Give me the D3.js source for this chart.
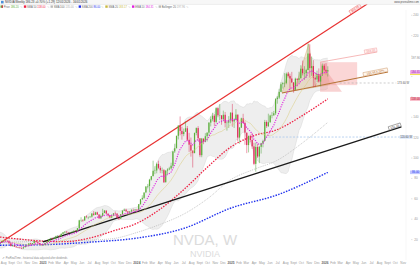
<!DOCTYPE html>
<html>
<head>
<meta charset="utf-8">
<script src="https://cdn.jsdelivr.net/npm/d3@7"></script>
<style>
  html, body { margin: 0; padding: 0; background: #fff; }
  svg { display: block; font-family: "Liberation Sans", Arial, sans-serif; }
</style>
</head>
<body>
<div id="chart"></div>
<script>
// weekly closes before the visible window (only used to seed the averages)
var priorCloses = [22.9, 26.4, 27.1, 26.7, 23.1, 21.2, 19.5, 18.5, 18.7, 17.8,
  16.7, 18.8, 18.7, 17.0, 15.9, 17.1, 14.5, 15.8, 15.9];

// weekly candles, first week starts 18 Jul 2022
var closes = [
  // 2022
  17.3, 18.2, 19.1, 19.0, 18.9, 16.3, 13.6, 14.4, 13.2, 12.5, 12.1, 12.0, 11.3, 12.5, 13.8, 14.1, 16.3, 15.4, 16.5, 18.7, 17.5, 16.6, 15.3, 14.6,
  // 2023
  14.9, 16.8, 17.8, 20.3, 21.1, 20.5, 21.4, 23.3, 23.7, 22.9, 25.7, 27.1, 27.8, 27.1, 26.7, 27.1, 27.7, 28.7, 28.3, 31.2,
  38.9, 39.3, 38.8, 42.7, 42.2, 42.3, 42.5, 45.5, 44.3, 46.7, 44.6, 40.9, 43.3, 46.0, 48.5, 45.5, 43.9, 41.6, 43.5, 45.7,
  45.4, 41.3, 40.5, 45.0, 48.3, 49.3, 47.8, 46.5, 47.6, 48.9, 48.8, 49.5,
  // 2024
  49.0, 54.7, 59.5, 61.0, 66.2, 72.1, 72.6, 78.8, 82.2, 87.5, 87.8, 94.2, 90.4, 88.0, 88.1, 76.2, 87.7, 88.8, 89.8, 92.5,
  106.5, 109.6, 121.8, 131.9, 126.6, 123.5, 125.8, 129.2, 117.9, 113.1, 107.3, 104.8, 124.6, 129.4, 119.4, 102.8, 119.1, 116.0, 121.4, 124.9,
  134.8, 138.0, 141.5, 135.4, 148.9, 141.9, 141.9, 138.3, 142.4, 134.3, 134.7, 137.0, 144.5,
  // 2025
  135.9, 137.7, 142.6, 120.1, 129.8, 138.9, 134.4, 124.9, 112.7, 121.7, 117.7, 111.4, 94.3, 110.9, 101.5, 111.0, 114.5, 116.7, 135.4, 131.3,
  135.1, 141.7, 142.0, 143.9, 157.8, 159.3, 164.9, 172.4, 173.5, 173.7, 182.7, 180.5, 178.0, 174.2, 167.0, 177.8, 176.7, 178.2, 187.6, 183.2,
  183.2, 186.3, 202.5, 188.2, 190.2, 178.9, 177.0, 182.4, 175.0, 181.0, 190.5, 186.5,
  // 2026
  184.9, 186.2
];
var highs = [
  17.8, 18.7, 19.6, 19.3, 19.2, 18.9, 16.4, 14.6, 14.5, 13.4, 12.8, 13.1, 12.0, 12.7, 14.2, 14.3, 16.6, 16.9, 16.7, 18.9, 18.1, 18.3, 16.8, 15.6,
  15.0, 16.9, 17.8, 20.3, 21.7, 22.0, 22.0, 23.8, 24.1, 24.2, 25.8, 27.3, 28.0, 28.2, 27.2, 27.4, 27.9, 28.9, 29.0, 31.4,
  39.5, 41.9, 39.9, 43.0, 43.9, 42.4, 43.0, 46.1, 48.0, 47.3, 47.4, 45.0, 44.5, 50.2, 48.9, 48.0, 45.5, 43.9, 44.9, 46.0,
  47.6, 46.1, 42.8, 45.1, 48.9, 50.5, 50.3, 47.8, 47.9, 49.9, 50.4, 49.9,
  49.6, 54.9, 59.9, 63.5, 66.3, 72.3, 74.6, 79.6, 82.3, 97.4, 92.0, 95.5, 97.4, 92.3, 90.6, 89.2, 88.0, 90.0, 91.4, 95.4,
  106.8, 114.0, 121.9, 132.0, 140.8, 130.8, 128.9, 136.1, 131.4, 124.7, 120.1, 107.0, 125.0, 130.0, 131.3, 118.8, 119.7, 119.0, 124.4, 125.2,
  135.0, 140.9, 144.4, 143.1, 149.8, 149.6, 152.9, 141.6, 146.5, 145.2, 136.2, 141.1, 144.9,
  153.1, 138.9, 148.0, 131.4, 130.4, 139.6, 143.4, 136.0, 123.7, 122.0, 122.9, 124.5, 115.0, 115.1, 114.0, 111.9, 114.9, 118.0, 137.4, 137.0,
  143.5, 142.5, 145.0, 146.2, 158.7, 160.9, 167.9, 174.3, 174.7, 183.3, 183.9, 184.5, 182.7, 184.5, 174.3, 178.8, 178.0, 184.6, 191.0, 195.6,
  190.1, 187.5, 212.2, 211.5, 199.6, 196.0, 184.0, 185.7, 187.9, 182.8, 192.7, 192.5,
  193.0, 190.0
];
var lows = [
  15.8, 17.0, 17.4, 17.9, 18.1, 16.2, 13.5, 13.3, 12.9, 12.3, 11.9, 11.6, 10.8, 11.2, 12.8, 13.1, 13.4, 15.3, 15.6, 15.8, 17.0, 16.1, 14.9, 14.1,
  14.1, 14.9, 16.6, 17.6, 19.2, 20.3, 20.5, 20.5, 22.3, 22.8, 22.6, 25.4, 26.0, 26.9, 25.8, 26.0, 26.3, 26.9, 27.6, 28.0,
  30.3, 37.3, 37.5, 38.5, 41.0, 40.0, 41.2, 41.6, 43.4, 44.5, 44.3, 40.3, 40.3, 44.0, 46.6, 45.2, 42.6, 40.9, 41.0, 43.1,
  44.0, 40.6, 39.2, 40.4, 45.3, 48.1, 46.9, 45.6, 44.0, 47.0, 47.6, 47.8,
  47.3, 49.5, 54.5, 59.0, 60.0, 67.0, 70.3, 66.3, 77.9, 85.2, 84.2, 85.0, 89.1, 85.2, 85.0, 75.6, 77.7, 84.0, 88.0, 88.9,
  91.0, 105.0, 110.5, 118.3, 122.3, 118.0, 121.4, 127.0, 116.7, 106.0, 101.4, 90.7, 106.0, 122.3, 116.7, 100.9, 100.8, 113.6, 115.4, 116.2,
  122.1, 131.0, 136.0, 131.3, 134.0, 140.0, 137.2, 132.6, 136.0, 130.0, 126.9, 129.5, 134.0,
  130.7, 129.5, 137.0, 116.3, 114.0, 129.5, 133.9, 113.0, 104.8, 105.5, 115.4, 109.0, 93.0, 86.6, 100.1, 95.0, 104.4, 110.5, 118.0, 129.5,
  130.4, 134.6, 139.0, 141.3, 142.2, 153.3, 157.9, 164.7, 168.1, 169.5, 172.4, 179.0, 167.2, 173.8, 164.1, 166.4, 170.3, 173.5, 178.4, 181.0,
  176.7, 179.0, 188.5, 178.9, 180.6, 169.5, 169.6, 174.6, 174.0, 170.3, 181.9, 185.0,
  182.0, 180.0
];

// long averages
var sma50Dates = ["2022-07-18", "2022-10-01", "2023-01-01", "2023-04-01", "2023-07-01", "2023-10-01", "2024-01-01", "2024-04-01",
  "2024-07-01", "2024-10-01", "2025-01-01", "2025-04-01", "2025-07-01", "2025-10-01", "2026-01-12"];
var sma50Values = [22.5, 20.5, 18.5, 18.0, 21.5, 28.5, 36, 50, 69, 91, 111, 122, 128, 141, 158];
var sma100Dates = ["2022-07-18", "2023-01-01", "2023-07-01", "2023-10-01", "2024-01-01", "2024-04-01", "2024-07-01",
  "2024-10-01", "2025-01-01", "2025-04-01", "2025-07-01", "2025-10-01", "2026-01-12"];
var sma100Values = [17, 18.5, 19.5, 21, 27, 35, 45, 60, 79, 89, 98, 114, 135];
var sma200Dates = ["2022-07-18", "2023-01-01", "2023-07-01", "2024-01-01", "2024-07-01", "2025-01-01", "2025-07-01", "2026-01-12"];
var sma200Values = [14.5, 15.0, 17.5, 21.5, 31, 51, 64, 86];

// drawings
var redTrendDates = ["2022-07-18", "2026-06-14"], redTrendPrices = [16.7, 251];
var blackTrendDates = ["2023-01-01", "2026-10-25"], blackTrendPrices = [17.7, 130.5];
var neckDates = ["2025-07-18", "2026-09-03"], neckPrices = [163.8, 184.4];
var pinkLineDates = ["2025-12-13", "2026-07-23"], pinkLinePrices = [194, 204];
var boxDates = ["2025-12-13", "2026-05-06"], boxPrices = [171.5, 194];
var triDates = ["2025-12-13", "2026-03-08", "2025-12-13"], triPrices = [194, 165, 165];
var patternDates = ["2025-07-18", "2025-08-12", "2025-09-05", "2025-10-30", "2025-11-24", "2025-12-29", "2026-01-20"];
var patternPrices = [164, 184, 167, 212, 170, 192, 172];
var dashLevel = 173.6, dashDates = ["2026-02-27", "2026-10-05"];
var blueLevel = 120.6, blueDates = ["2025-05-13", "2026-10-22"];

var yTicks = [20, 40, 60, 80, 100, 120, 140, 160, 180, 200, 220, 240];
var monthNames = ["", "Feb", "Mar", "Apr", "May", "Jun", "Jul", "Aug", "Sept", "Oct", "Nov", "Dec"];

var width = 420, height = 265, plotRight = 405;
var parse = d3.timeParse("%Y-%m-%d");
var firstWeek = parse("2022-07-18");

var svg = d3.select("#chart").append("svg")
  .attr("width", width)
  .attr("height", height);

var x = d3.scaleTime().domain([firstWeek, parse("2026-11-08")]).range([0, plotRight]);
var y = d3.scaleLinear().domain([0, 255]).range([260, 0]);

// candles
var candles = closes.map(function (c, i) {
  var o = i === 0 ? priorCloses[priorCloses.length - 1] : closes[i - 1];
  return { date: d3.timeDay.offset(firstWeek, 7 * i), o: o, c: c,
    h: Math.max(highs[i], o, c), l: Math.min(lows[i], o, c) };
});

// indicators from the closes
var all = priorCloses.concat(closes);
var off = priorCloses.length;
var ema = [], k = 2 / 11;
all.forEach(function (v, i) { ema.push(i === 0 ? v : v * k + ema[i - 1] * (1 - k)); });
var ind = candles.map(function (d, i) {
  var j = i + off;
  var win = all.slice(Math.max(0, j - 19), j + 1);
  var m = d3.mean(win), sd = d3.deviation(win) || 0;
  return { date: d.date, ema10: ema[j], sma20: m, up: m + 2 * sd, dn: m - 2 * sd };
});
var last = ind[ind.length - 1];

// watermark
svg.append("text").attr("x", 205).attr("y", 245).attr("text-anchor", "middle")
  .attr("font-size", 15).attr("fill", "#dcdcdc").text("NVDA, W");
svg.append("text").attr("x", 205).attr("y", 257).attr("text-anchor", "middle")
  .attr("font-size", 9).attr("fill", "#dcdcdc").text("NVIDIA");

// bollinger band
svg.append("path").datum(ind)
  .attr("d", d3.area().x(function (d) { return x(d.date); })
    .y0(function (d) { return y(d.dn); }).y1(function (d) { return y(d.up); }))
  .attr("fill", "#eeeeee");
["up", "dn"].forEach(function (key) {
  svg.append("path").datum(ind)
    .attr("d", d3.line().x(function (d) { return x(d.date); }).y(function (d) { return y(d[key]); }))
    .attr("fill", "none").attr("stroke", "#d6d6d6").attr("stroke-width", 0.5);
});

function knotLine(dates, values) {
  return d3.line().curve(d3.curveMonotoneX)
    .x(function (d) { return x(parse(d)); })
    .y(function (d, i) { return y(values[i]); })(dates);
}
function poly(dates, values) {
  return dates.map(function (d, i) { return [x(parse(d)), y(values[i])]; });
}

// head and shoulders pattern fill
svg.append("path")
  .attr("d", d3.line()(poly(patternDates, patternPrices)) + "Z")
  .attr("fill", "#d8b07a").attr("fill-opacity", 0.35)
  .attr("stroke", "#d0a060").attr("stroke-width", 0.4);

// pink target zone
var bp = poly(boxDates, boxPrices);
svg.append("rect").attr("x", bp[0][0]).attr("y", bp[1][1])
  .attr("width", bp[1][0] - bp[0][0]).attr("height", bp[0][1] - bp[1][1])
  .attr("fill", "#f7b4b4").attr("fill-opacity", 0.55);
svg.append("path").attr("d", d3.line()(poly(triDates, triPrices)) + "Z")
  .attr("fill", "#ee8f8f").attr("fill-opacity", 0.4);

// long averages
svg.append("path").attr("d", knotLine(sma200Dates, sma200Values))
  .attr("fill", "none").attr("stroke", "#2233ee").attr("stroke-width", 1.4).attr("stroke-dasharray", "1.5,1.3");
svg.append("path").attr("d", knotLine(sma100Dates, sma100Values))
  .attr("fill", "none").attr("stroke", "#bbbbbb").attr("stroke-width", 0.8).attr("stroke-dasharray", "1,1");
svg.append("path").attr("d", knotLine(sma50Dates, sma50Values))
  .attr("fill", "none").attr("stroke", "#ee2244").attr("stroke-width", 1.3).attr("stroke-dasharray", "1.5,1.3");

// horizontal levels
svg.append("line").attr("x1", x(parse(blueDates[0]))).attr("x2", x(parse(blueDates[1])))
  .attr("y1", y(blueLevel)).attr("y2", y(blueLevel))
  .attr("stroke", "#aac8ee").attr("stroke-width", 0.8).attr("stroke-dasharray", "2,1.5");
svg.append("line").attr("x1", x(parse(dashDates[0]))).attr("x2", x(parse(dashDates[1])))
  .attr("y1", y(dashLevel)).attr("y2", y(dashLevel))
  .attr("stroke", "#aaaaaa").attr("stroke-width", 0.6).attr("stroke-dasharray", "2,2");

// trend lines
function trend(dates, prices, color, w) {
  var p = poly(dates, prices);
  svg.append("line").attr("x1", p[0][0]).attr("y1", p[0][1]).attr("x2", p[1][0]).attr("y2", p[1][1])
    .attr("stroke", color).attr("stroke-width", w);
  return p;
}
function lineTag(p, t, color, txt, bg) {
  var px = p[0][0] + (p[1][0] - p[0][0]) * t, py = p[0][1] + (p[1][1] - p[0][1]) * t;
  var ang = Math.atan2(p[1][1] - p[0][1], p[1][0] - p[0][0]) * 180 / Math.PI;
  var g = svg.append("g").attr("transform", "translate(" + px + "," + py + ") rotate(" + ang + ")");
  var tw = txt.length * 1.75 + 2;
  g.append("rect").attr("x", -tw).attr("y", -4.2).attr("width", tw).attr("height", 3.6)
    .attr("fill", bg).attr("stroke", color).attr("stroke-width", 0.35);
  g.append("text").attr("x", -tw / 2).attr("y", -1.4).attr("text-anchor", "middle")
    .attr("font-size", 2.9).attr("fill", color).text(txt);
}
var pr = trend(redTrendDates, redTrendPrices, "#e83232", 1.2);
var pb = trend(blackTrendDates, blackTrendPrices, "#1a1a1a", 1.3);
var pn = trend(neckDates, neckPrices, "#b8763a", 1.2);
var pp = trend(pinkLineDates, pinkLinePrices, "#f08a8a", 0.6);

// candles
var cw = 1.2;
var cg = svg.append("g");
cg.selectAll("line").data(candles).join("line")
  .attr("x1", function (d) { return x(d.date); }).attr("x2", function (d) { return x(d.date); })
  .attr("y1", function (d) { return y(d.h); }).attr("y2", function (d) { return y(d.l); })
  .attr("stroke", function (d) { return d.c >= d.o ? "#3f9a2a" : "#d8204a"; })
  .attr("stroke-width", 0.45);
cg.selectAll("rect").data(candles).join("rect")
  .attr("x", function (d) { return x(d.date) - cw / 2; })
  .attr("y", function (d) { return y(Math.max(d.o, d.c)); })
  .attr("width", cw)
  .attr("height", function (d) { return Math.max(0.4, Math.abs(y(d.o) - y(d.c))); })
  .attr("fill", function (d) { return d.c >= d.o ? "#5cb03a" : "#e0285a"; });

// short averages
svg.append("path").datum(ind)
  .attr("d", d3.line().x(function (d) { return x(d.date); }).y(function (d) { return y(d.sma20); }))
  .attr("fill", "none").attr("stroke", "#d9cb7a").attr("stroke-width", 0.5);
svg.append("path").datum(ind)
  .attr("d", d3.line().x(function (d) { return x(d.date); }).y(function (d) { return y(d.ema10); }))
  .attr("fill", "none").attr("stroke", "#e020e0").attr("stroke-width", 1.1).attr("stroke-dasharray", "1.2,1.2");

// labels on drawings
lineTag(pr, 0.985, "#e83232", "256.75", "#ffecec");
lineTag(pb, 1.0, "#1a1a1a", "131.10", "#ffffff");
lineTag(pn, 1.0, "#b8763a", "183.94  4.20%", "#fff7ee");
lineTag(pp, 1.0, "#f08a8a", "204.10", "#fff0f0");

// value tags on the axis
var tagValues = [last.up, sma50Values[sma50Values.length - 1], sma200Values[sma200Values.length - 1], last.sma20, last.ema10];
var tagFills = ["#ffffff", "#f7a8b8", "#c0c6ff", "#f2e25a", "#f0b0f0"];
var tagInk = ["#888", "#b0102c", "#2233ee", "#6b5e00", "#a010a0"];

// right axis
var ax = svg.append("g");
ax.append("line").attr("x1", plotRight + 1).attr("x2", plotRight + 1).attr("y1", 10).attr("y2", 260)
  .attr("stroke", "#eeeeee").attr("stroke-width", 0.5);
yTicks.forEach(function (t) {
  ax.append("line").attr("x1", plotRight + 6).attr("x2", plotRight + 7.5)
    .attr("y1", y(t)).attr("y2", y(t)).attr("stroke", "#bbbbbb").attr("stroke-width", 0.4);
  var clash = tagValues.some(function (v) { return Math.abs(y(v) - y(t)) < 4; });
  if (!clash) {
    ax.append("text").attr("x", plotRight + 11).attr("y", y(t) + 1).attr("text-anchor", "middle")
      .attr("font-size", 3.2).attr("fill", "#999").text(t);
  }
});

tagValues.forEach(function (v, i) {
  ax.append("rect").attr("x", plotRight + 5).attr("y", y(v) - 1.8).attr("width", 11).attr("height", 3.6)
    .attr("fill", tagFills[i]);
  ax.append("text").attr("x", plotRight + 10.5).attr("y", y(v) + 1).attr("text-anchor", "middle")
    .attr("font-size", 2.8).attr("fill", tagInk[i]).text(v.toFixed(2));
});
// level labels
svg.append("rect").attr("x", x(parse(blueDates[1])) - 1).attr("y", y(blueLevel) - 1.8)
  .attr("width", 13).attr("height", 3.6).attr("fill", "#dde9fb");
svg.append("text").attr("x", x(parse(blueDates[1])) + 5.5).attr("y", y(blueLevel) + 1)
  .attr("text-anchor", "middle").attr("font-size", 2.8).attr("fill", "#555").text(blueLevel.toFixed(2) + " W");
svg.append("text").attr("x", x(parse(dashDates[1])) + 1).attr("y", y(dashLevel) + 1)
  .attr("font-size", 2.8).attr("fill", "#555").text(dashLevel.toFixed(2) + " W");

// bottom axis
var months = d3.timeMonth.range(parse("2022-08-01"), parse("2026-12-01"));
svg.append("g").selectAll("text").data(months).join("text")
  .attr("x", function (d) { return x(d); })
  .attr("y", 263.6)
  .attr("text-anchor", "middle")
  .attr("font-size", 3.2)
  .attr("font-weight", function (d) { return d.getMonth() === 0 ? "bold" : "normal"; })
  .attr("fill", function (d) { return d.getMonth() === 0 ? "#666" : "#999"; })
  .text(function (d) { return d.getMonth() === 0 ? d.getFullYear() : monthNames[d.getMonth()]; });
svg.append("text").attr("x", 2).attr("y", 258.5).attr("font-size", 2.6).attr("fill", "#888")
  .text("\u2197 ProRealTime - historical data adjusted after dividends");

// header
svg.append("rect").attr("x", 0).attr("y", 0).attr("width", width).attr("height", 4.3).attr("fill", "#f7f7f7");
svg.append("line").attr("x1", 0).attr("x2", width).attr("y1", 4.4).attr("y2", 4.4)
  .attr("stroke", "#dddddd").attr("stroke-width", 0.5);
svg.append("rect").attr("x", 1).attr("y", 0.8).attr("width", 2.6).attr("height", 2.6).attr("fill", "#4a90d9");
svg.append("text").attr("x", 5).attr("y", 3.2).attr("font-size", 2.9).attr("fill", "#333")
  .text("NVIDIA Weekly 186.23 +0.70% (+1.29) 12/01/2026 - 16/01/2026");
svg.append("text").attr("x", 419).attr("y", 3.2).attr("text-anchor", "end").attr("font-size", 2.6).attr("fill", "#555")
  .text("www.prorealtime.com");

var legendNames = ["Price", "SMA 50", "SMA 100", "SMA 200", "SMA 20", "EMA 10", "Bollinger 20"];
var legendColors = ["#5cb03a", "#ee2244", "#bbbbbb", "#2233ee", "#c8b840", "#e020e0", "#bbbbbb"];
var legendValues = [closes[closes.length - 1], sma50Values[sma50Values.length - 1], sma100Values[sma100Values.length - 1],
  sma200Values[sma200Values.length - 1], last.sma20, last.ema10, last.up];
var lx = 0.5;
legendNames.forEach(function (name, i) {
  var g = svg.append("g").attr("transform", "translate(" + lx + ",0)");
  g.append("rect").attr("x", 0).attr("y", 5.4).attr("width", 2.4).attr("height", 2.4).attr("fill", legendColors[i]);
  if (i === 0) g.append("rect").attr("x", 1.2).attr("y", 5.4).attr("width", 1.2).attr("height", 2.4).attr("fill", "#e0285a");
  var t1 = g.append("text").attr("x", 3.2).attr("y", 7.6).attr("font-size", 2.7).attr("fill", "#666").text(name);
  var w1 = t1.node().getComputedTextLength();
  var t2 = g.append("text").attr("x", 4 + w1).attr("y", 7.6).attr("font-size", 2.7)
    .attr("fill", legendColors[i] === "#bbbbbb" ? "#aaa" : legendColors[i]).text(legendValues[i].toFixed(2));
  var w2 = t2.node().getComputedTextLength();
  g.append("text").attr("x", 5 + w1 + w2).attr("y", 7.6).attr("font-size", 2.7).attr("fill", "#bbb").text("\u270e");
  lx += 9 + w1 + w2;
});
</script>
</body>
</html>
